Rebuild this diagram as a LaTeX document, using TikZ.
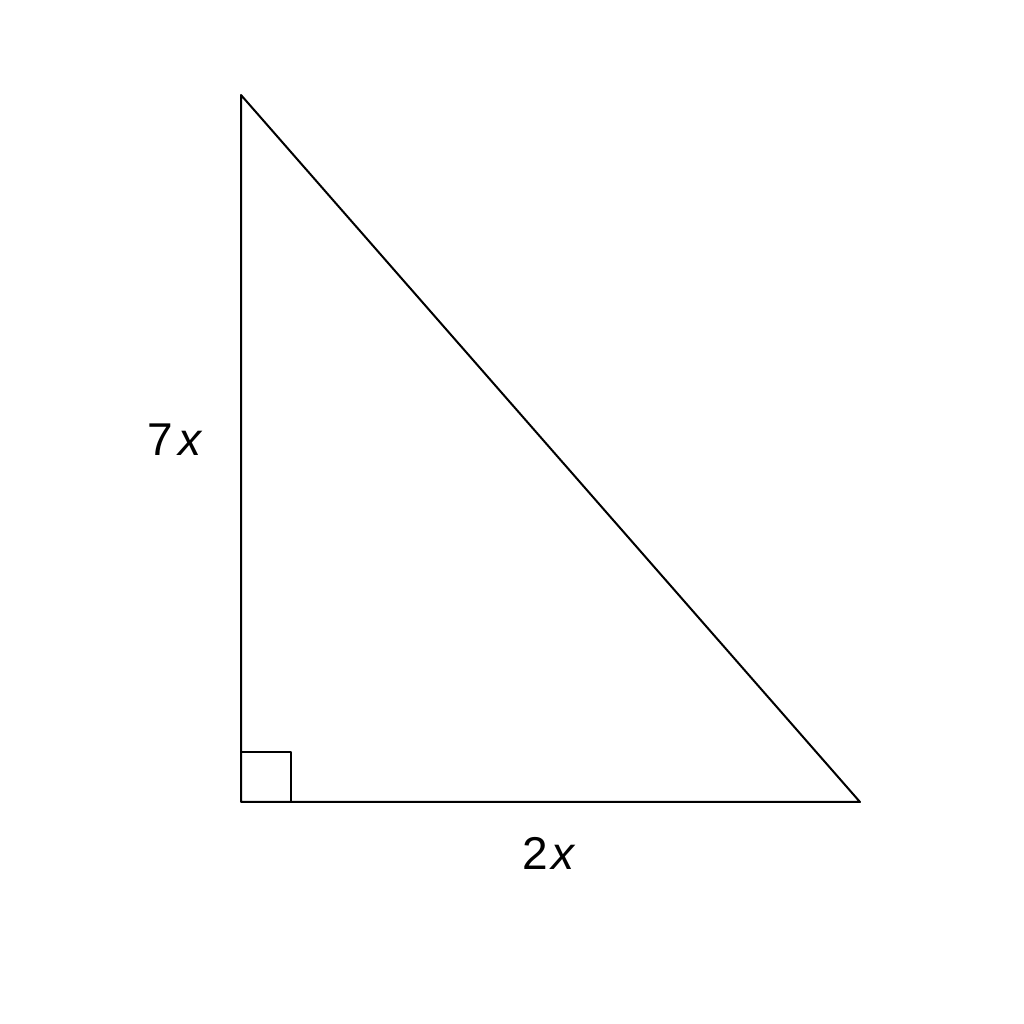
\documentclass[tikz,border=0pt]{standalone}
\usepackage{fontspec}
\setmainfont{Liberation Sans}
\usepackage{tikz}
\usetikzlibrary{positioning}

\begin{document}
\begin{tikzpicture}[line cap=round,line join=round,x=0.5pt,y=0.5pt]
\useasboundingbox (0,0) rectangle (1024,1024);
\tikzset{sidelabel/.style={anchor=base,inner sep=0pt,font=\fontsize{23}{28}\selectfont}}
% vertices
\coordinate (top) at (241,929);
\coordinate (corner) at (241,222);
\coordinate (right) at (860,222);
\draw [line width=1pt,color=black] (top) -- (corner) -- (right) -- cycle;
% right angle mark
\draw [line width=1pt,color=black] (241,272) -- (291,272) -- (291,222);
% labels
\node[sidelabel] (lblleft) at (175,568) {7\kern3pt\textit{x}};
\node[sidelabel] (lblbottom) at (549,154) {2\kern1.5pt\textit{x}};
\end{tikzpicture}
\end{document}
